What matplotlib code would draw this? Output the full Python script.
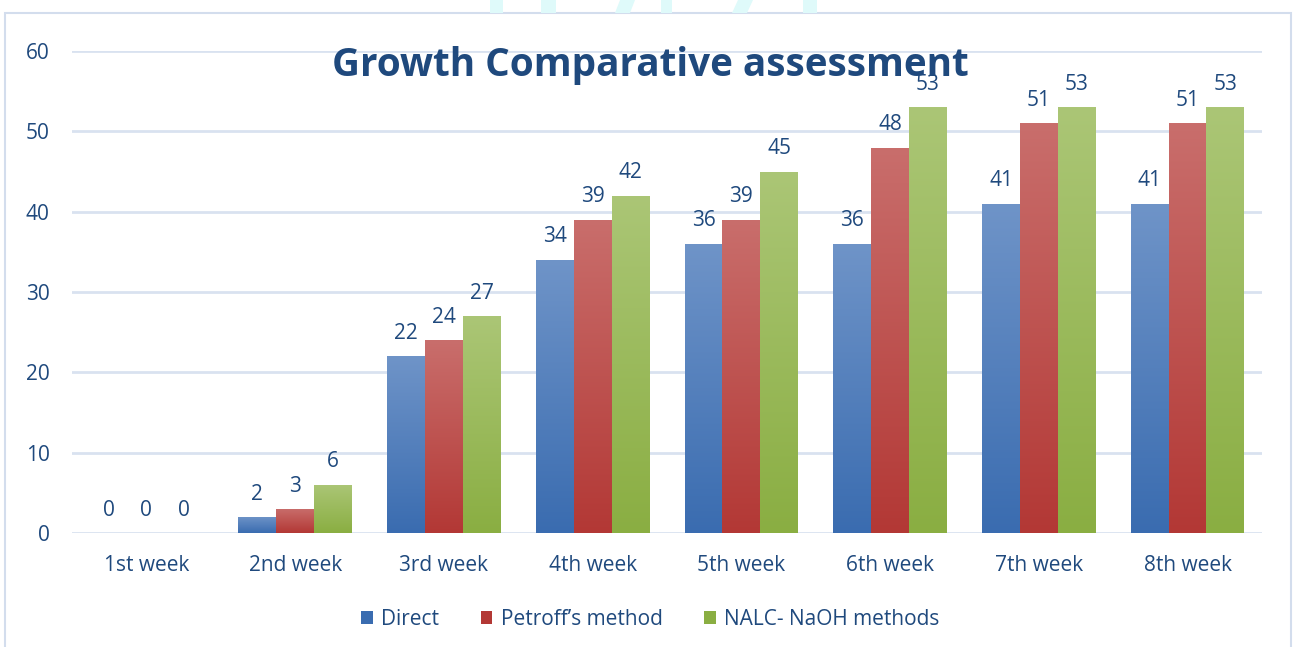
import numpy as np
import matplotlib
matplotlib.use("Agg")
import matplotlib.pyplot as plt
from matplotlib.colors import LinearSegmentedColormap
from matplotlib.patches import Rectangle, Patch, Polygon

plt.rcParams["font.family"] = ["Open Sans", "DejaVu Sans"]

# Chart data
weeks = ["1st week", "2nd week", "3rd week", "4th week",
         "5th week", "6th week", "7th week", "8th week"]
direct = [0, 2, 22, 34, 36, 36, 41, 41]
petroff = [0, 3, 24, 39, 39, 48, 51, 51]
nalc = [0, 6, 27, 42, 45, 53, 53, 53]
series_names = ["Direct", "Petroff\u2019s method", "NALC- NaOH methods"]

text_color = "#1f497d"
grid_color = "#d9e2f0"
# (top colour, bottom colour) of each bar gradient
gradients = [("#6f94c8", "#3a6cb0"),
             ("#c96e6c", "#b33835"),
             ("#abc676", "#8aae42")]

W, H = 1293, 647
fig = plt.figure(figsize=(W / 100, H / 100), dpi=100)
ax = fig.add_axes([0.0557, 0.176, 0.9203, 0.745])

x = np.arange(len(weeks))
width = 0.254

for i, (vals, name, (top, bottom)) in enumerate(zip([direct, petroff, nalc], series_names, gradients)):
    bars = ax.bar(x + (i - 1) * width, vals, width, color=bottom, label=name, zorder=2)
    cmap = LinearSegmentedColormap.from_list(name, [bottom, top])
    for bar, v in zip(bars, vals):
        if v > 0:
            grad = np.linspace(0, 1, 256).reshape(-1, 1)
            bx, bw = bar.get_x(), bar.get_width()
            im = ax.imshow(grad, cmap=cmap, origin="lower", aspect="auto",
                           extent=[bx, bx + bw, 0, v], zorder=3)
            im.set_clip_path(bar)
        ax.annotate(str(v), (bar.get_x() + bar.get_width() / 2, v),
                    xytext=(0, 9), textcoords="offset points",
                    ha="center", va="bottom", fontsize=15, color=text_color, zorder=4)

ax.set_xlim(-0.5, len(weeks) - 0.5)
ax.set_ylim(0, 60)
ax.set_yticks(range(0, 61, 10))
ax.set_xticks(x)
ax.set_xticklabels(weeks)
ax.tick_params(length=0, labelsize=15, labelcolor=text_color)
ax.tick_params(axis="y", pad=16)
ax.tick_params(axis="x", pad=16)
ax.grid(axis="y", color=grid_color, linewidth=2, zorder=0)
ax.set_axisbelow(True)
for s in ax.spines.values():
    s.set_visible(False)

fig.text(0.503, 0.898, "Growth Comparative assessment", ha="center", va="center",
         fontsize=27.8, fontweight="bold", color=text_color, zorder=5)

handles = [Patch(facecolor=b, edgecolor="none") for _, b in gradients]
fig.legend(handles, series_names, loc="center", bbox_to_anchor=(0.503, 0.043),
           ncol=3, frameon=False, fontsize=15, labelcolor=text_color,
           handlelength=0.55, handleheight=0.55, handletextpad=0.4, columnspacing=2.0)

# outer chart frame
fig.patches.append(Rectangle((5 / W, -0.05), (W - 7) / W, 1.03, transform=fig.transFigure,
                             fill=False, edgecolor="#d3dded", linewidth=1.5))

# faint cyan page marks above the frame (pixel x at bottom, x at top)
marks = [(490, 490, 13), (541, 541, 15), (615, 620, 15), (661, 661, 11), (732, 738, 15), (803, 803, 14)]
for xb, xt, w in marks:
    pts = [(xb / W, 1 - 13 / H), (xt / W, 1.0), ((xt + w) / W, 1.0), ((xb + w) / W, 1 - 13 / H)]
    fig.patches.append(Polygon(pts, closed=True, transform=fig.transFigure,
                               facecolor="#dffafa", edgecolor="none"))

fig.savefig("out.png", dpi=100)
